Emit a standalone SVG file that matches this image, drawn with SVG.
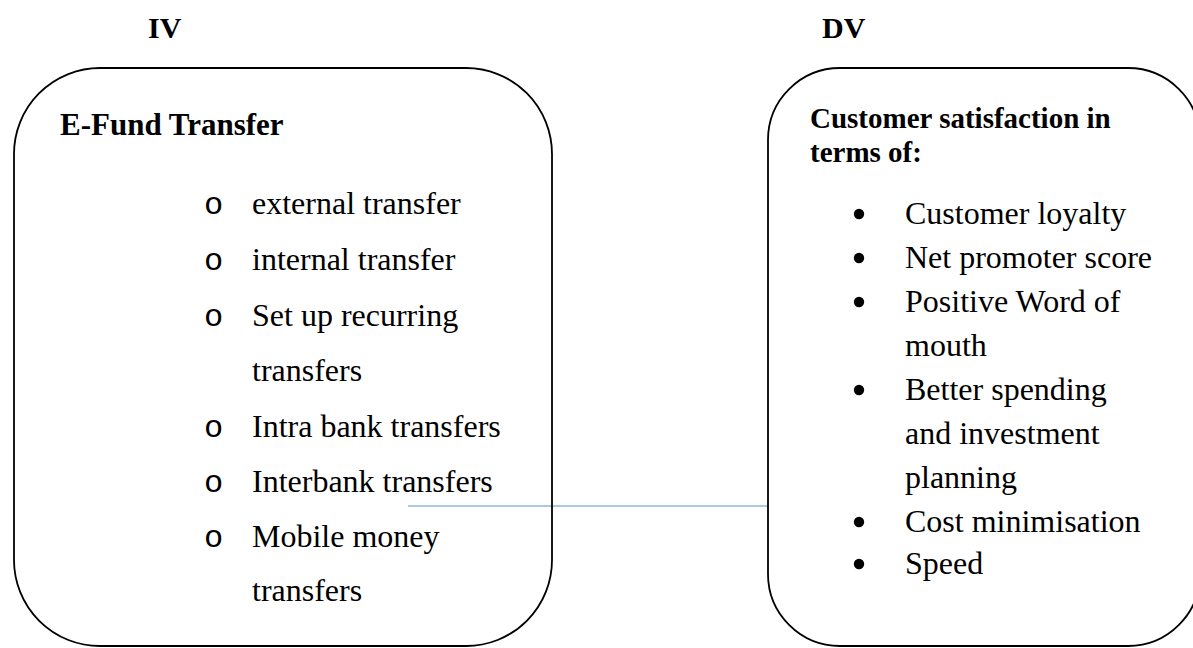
<svg xmlns="http://www.w3.org/2000/svg" width="1193" height="648" viewBox="0 0 1193 648">
  <style>
    .box { fill: none; stroke: #000; stroke-width: 1.8; }
    .hd { font-family: "Liberation Serif", "Times New Roman", serif; font-weight: bold; fill: #000; }
    .item { font-family: "Liberation Serif", "Times New Roman", serif; font-size: 32px; fill: #000; }
    .ob { font-family: "Liberation Mono", "Courier New", monospace; font-size: 32px; fill: #000; }
    .dot { fill: #000; }
    .link { stroke: #5b8fd0; stroke-width: 1.2; fill: none; }
  </style>
  <rect width="1193" height="648" fill="#fff"/>

  <!-- column labels -->
  <text class="hd" x="148" y="38" font-size="30">IV</text>
  <text class="hd" x="822" y="38" font-size="30">DV</text>

  <!-- connector between the two boxes -->
  <g id="connectors">
    <line class="link" x1="408" y1="506" x2="768" y2="506"/>
  </g>

  <!-- independent variable box -->
  <g id="iv-box">
    <rect class="box" x="14" y="68" width="538" height="578" rx="86" ry="86"/>
    <text class="hd" x="60" y="135" font-size="31">E-Fund Transfer</text>
    <text class="ob" x="204" y="214">o</text>
    <text class="item" x="252" y="214">external transfer</text>
    <text class="ob" x="204" y="270">o</text>
    <text class="item" x="252" y="270">internal transfer</text>
    <text class="ob" x="204" y="326">o</text>
    <text class="item" x="252" y="326">Set up recurring</text>
    <text class="item" x="252" y="381">transfers</text>
    <text class="ob" x="204" y="437">o</text>
    <text class="item" x="252" y="437">Intra bank transfers</text>
    <text class="ob" x="204" y="492">o</text>
    <text class="item" x="252" y="492">Interbank transfers</text>
    <text class="ob" x="204" y="547">o</text>
    <text class="item" x="252" y="547">Mobile money</text>
    <text class="item" x="252" y="601">transfers</text>
  </g>

  <!-- dependent variable box -->
  <g id="dv-box">
    <rect class="box" x="768" y="68" width="432" height="578" rx="72" ry="72"/>
    <text class="hd" x="810" y="128" font-size="29">Customer satisfaction in</text>
    <text class="hd" x="810" y="162" font-size="29">terms of:</text>
    <circle class="dot" cx="859" cy="214" r="5.2"/>
    <text class="item" x="905" y="224">Customer loyalty</text>
    <circle class="dot" cx="859" cy="258" r="5.2"/>
    <text class="item" x="905" y="268">Net promoter score</text>
    <circle class="dot" cx="859" cy="302" r="5.2"/>
    <text class="item" x="905" y="312">Positive Word of</text>
    <text class="item" x="905" y="356">mouth</text>
    <circle class="dot" cx="859" cy="390" r="5.2"/>
    <text class="item" x="905" y="400">Better spending</text>
    <text class="item" x="905" y="444">and investment</text>
    <text class="item" x="905" y="488">planning</text>
    <circle class="dot" cx="859" cy="522" r="5.2"/>
    <text class="item" x="905" y="532">Cost minimisation</text>
    <circle class="dot" cx="859" cy="564" r="5.2"/>
    <text class="item" x="905" y="574">Speed</text>
  </g>
</svg>
